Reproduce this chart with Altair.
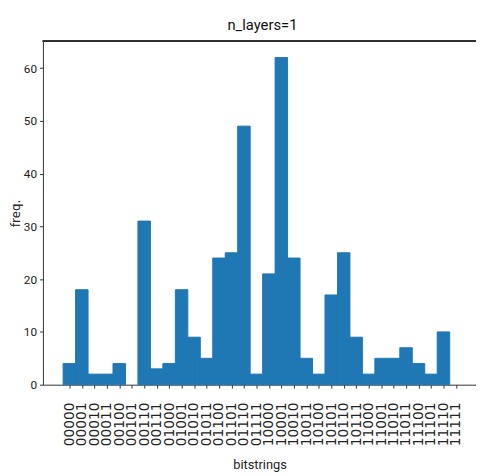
import altair as alt
import pandas as pd

bitstrings = ["00000", "00001", "00010", "00011", "00100", "00101", "00110", "00111",
              "01000", "01001", "01010", "01011", "01100", "01101", "01110", "01111",
              "10000", "10001", "10010", "10011", "10100", "10101", "10110", "10111",
              "11000", "11001", "11010", "11011", "11100", "11101", "11110", "11111"]
counts = [4, 18, 2, 2, 4, 0, 31, 3,
          4, 18, 9, 5, 24, 25, 49, 2,
          21, 62, 24, 5, 2, 17, 25, 9,
          2, 5, 5, 7, 4, 2, 10, 0]
y_ticks = [0, 10, 20, 30, 40, 50, 60]

n = len(bitstrings)
df = pd.DataFrame({
    "bits": bitstrings,
    "freq": counts,
    "start": list(range(n)),
    "end": [i + 1 for i in range(n)],
})

narrow = "Roboto, Liberation Sans, sans-serif"
wide = "DejaVu Sans, sans-serif"
W, H = 440, 349

label_array = "[" + ",".join("'" + b + "'" for b in bitstrings) + "]"
tick_pos = [i + 0.5 for i in range(n)]

bars = alt.Chart(df).transform_filter("datum.freq > 0").mark_rect(
    color="#1f77b4", stroke="#1f77b4", strokeWidth=1
).encode(
    x=alt.X("start:Q",
            scale=alt.Scale(domain=[-1.618, 33.11], nice=False, zero=False),
            axis=alt.Axis(title="bitstrings", values=tick_pos, grid=False,
                          labelExpr=label_array + "[floor(datum.value)]",
                          labelAngle=270, labelFont=wide,
                          labelFontSize=14, labelColor="#222", labelPadding=14,
                          labelOverlap=False, labelFlush=False,
                          tickSize=3.5, tickColor="#333", domainColor="#333",
                          titleFont=narrow, titleFontSize=13, titleFontWeight="normal",
                          titleColor="#222", titleY=75, titleBaseline="top")),
    x2="end:Q",
    y=alt.Y("freq:Q", scale=alt.Scale(domain=[0, 65.1], nice=False, zero=True),
            axis=alt.Axis(title="freq.", values=y_ticks, grid=False,
                          labelFont=narrow, labelFontSize=12, labelColor="#222",
                          labelPadding=3, tickSize=3.5, tickColor="#333",
                          domainColor="#333",
                          titleFont=wide, titleFontSize=12, titleFontWeight="normal",
                          titleColor="#222", titleX=-28, titleY=H / 2,
                          titleAngle=270, titleAlign="center", titleBaseline="middle")),
    y2=alt.datum(0),
)

top_rule = alt.Chart(df).mark_rule(color="#333", strokeWidth=1).encode(
    x=alt.value(0), x2=alt.value(W), y=alt.value(0)
)

chart = alt.layer(bars, top_rule).properties(
    width=W, height=H,
    title=alt.TitleParams("n_layers=1", font=narrow, fontSize=15, fontWeight="normal",
                          color="#111", offset=8, dx=3),
    autosize=alt.AutoSizeParams(type="none"),
    padding={"left": 35.5, "top": 30, "right": 0, "bottom": 85},
).configure_view(stroke=None)

chart.save("out.html", embed_options={"renderer": "svg", "actions": False})
